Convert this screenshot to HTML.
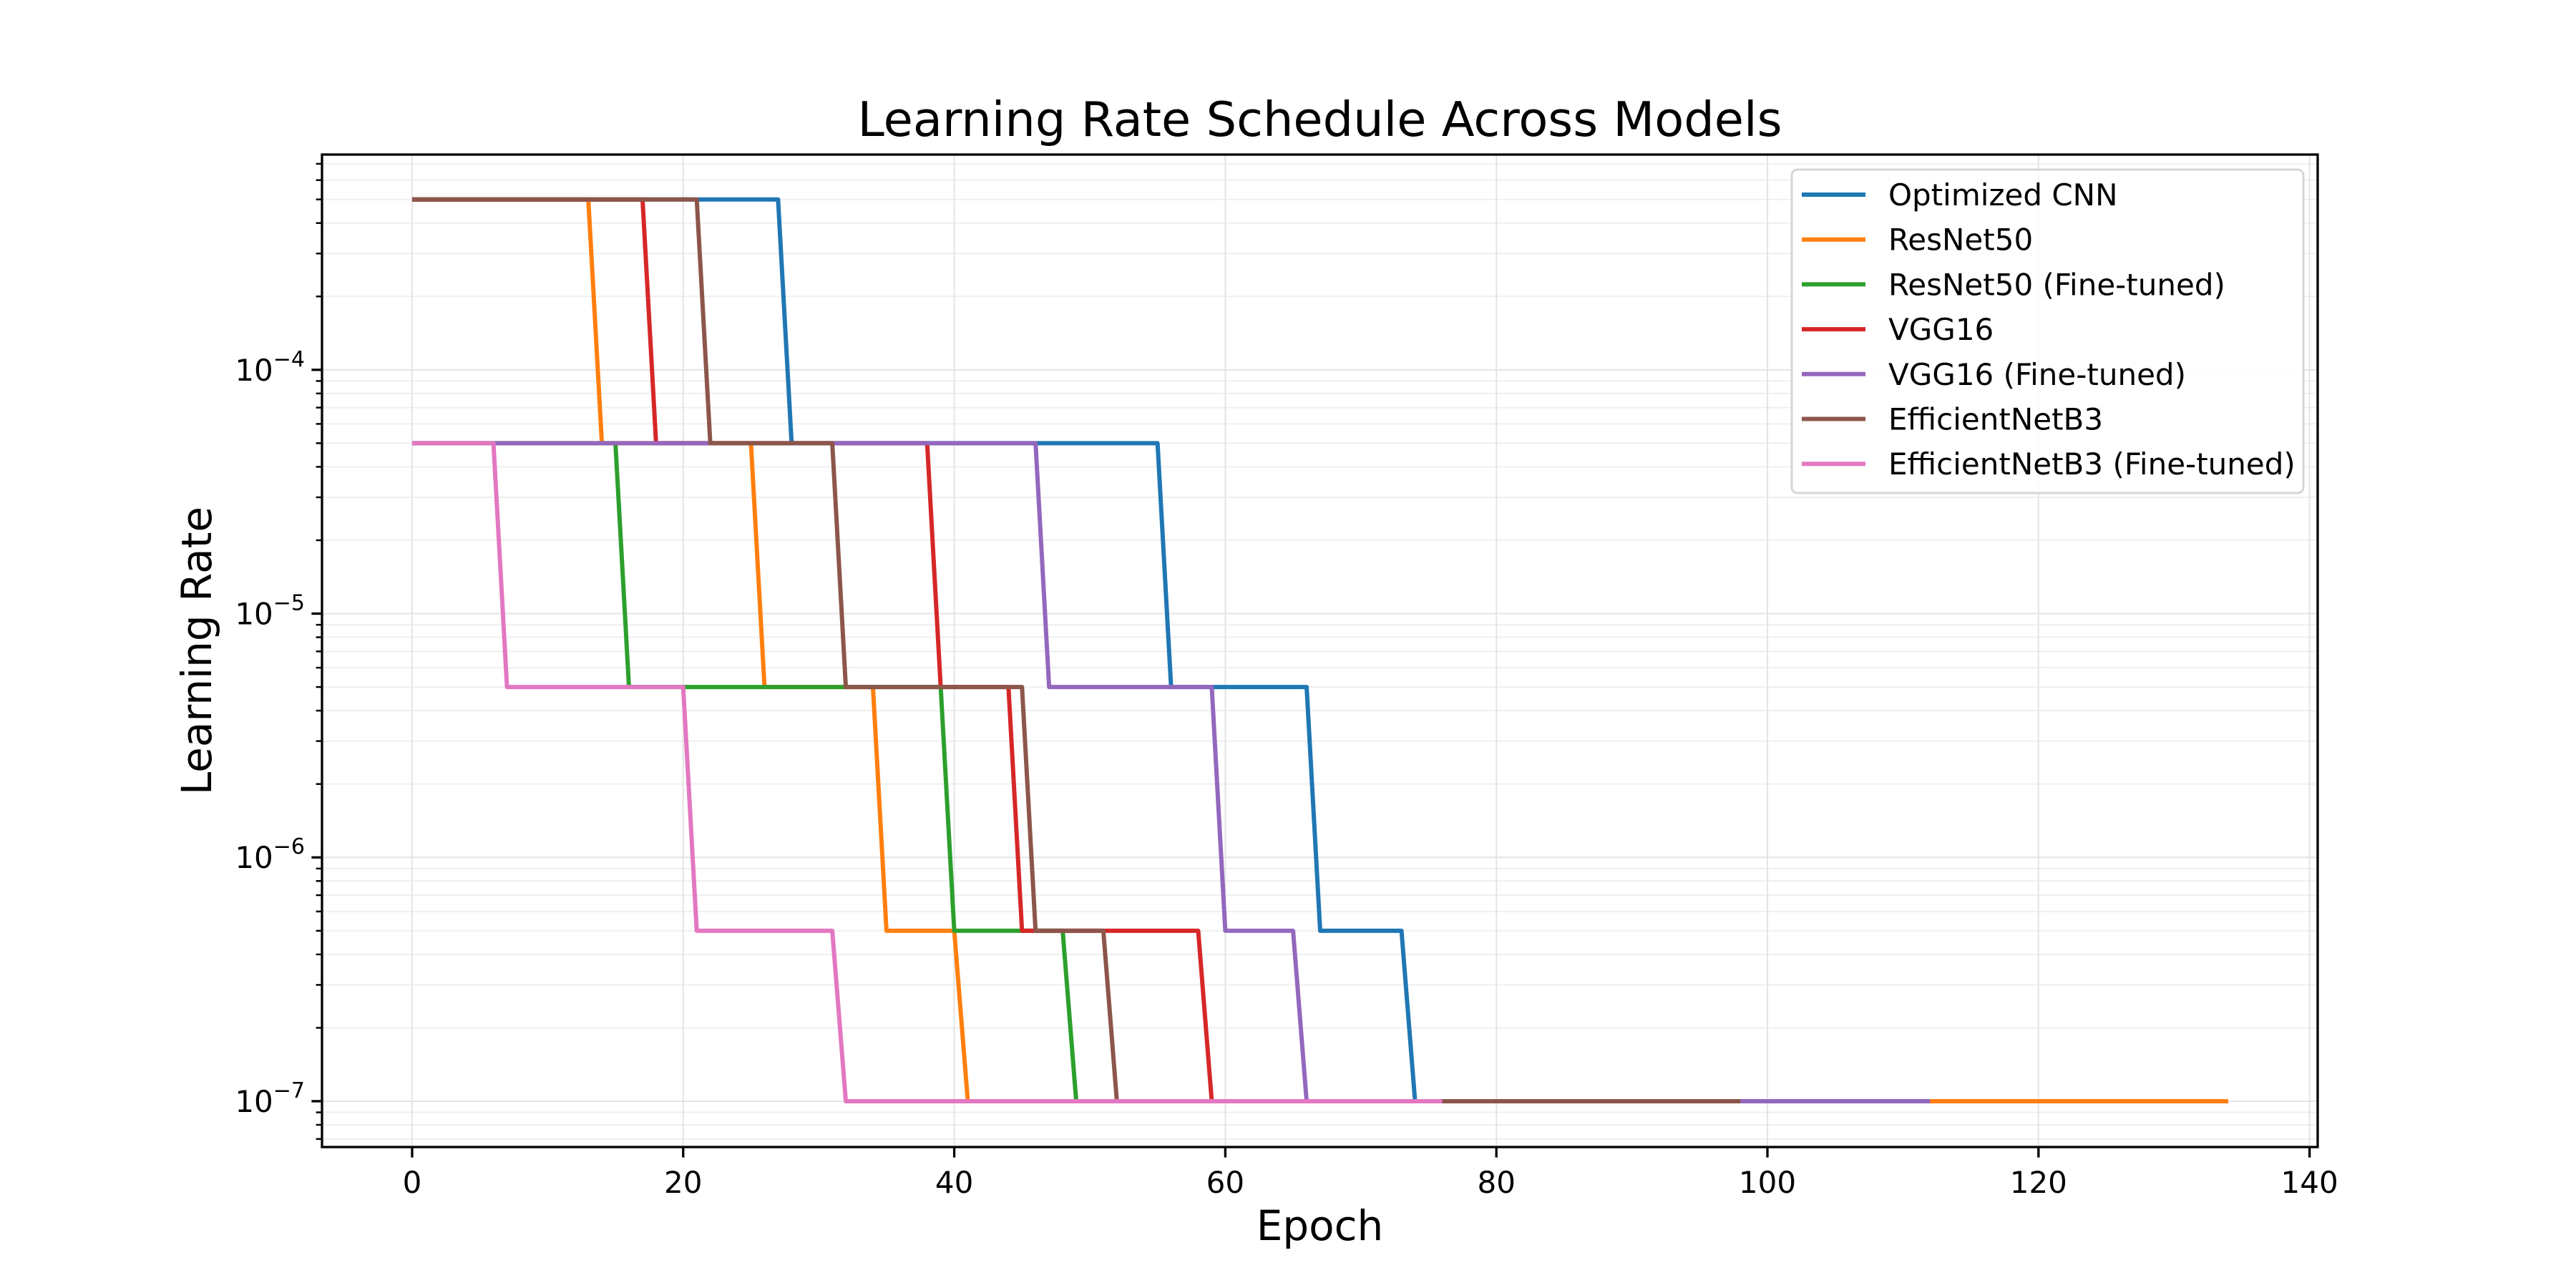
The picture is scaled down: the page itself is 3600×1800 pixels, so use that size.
<!DOCTYPE html>
<html><head><meta charset="utf-8"><style>
html,body{margin:0;padding:0;background:#fff;}
svg{display:block;font-family:"DejaVu Sans","Liberation Sans",sans-serif;}
</style></head><body>
<svg id="chart" width="3600" height="1800" viewBox="0 0 3600 1800" xmlns="http://www.w3.org/2000/svg">
<rect x="0" y="0" width="3600" height="1800" fill="#fff"/>
<g id="grid"></g>
<g id="series"></g>
<g id="axes"></g>
<g id="legend"></g>
</svg>
<script>
const NS='http://www.w3.org/2000/svg';
const seriesNames=['Optimized CNN','ResNet50','ResNet50 (Fine-tuned)','VGG16','VGG16 (Fine-tuned)','EfficientNetB3','EfficientNetB3 (Fine-tuned)'];
const seriesColors=['#1f77b4','#ff7f0e','#2ca02c','#d62728','#9467bd','#8c564b','#e377c2'];
// each series: list of [lastEpochOfSegment, learningRate] steps, starting at epoch 0
const stepsCNN=[[27,5e-4],[55,5e-5],[66,5e-6],[73,5e-7],[76,1e-7]];
const stepsResNet=[[13,5e-4],[25,5e-5],[34,5e-6],[40,5e-7],[134,1e-7]];
const stepsResNetFT=[[15,5e-5],[39,5e-6],[48,5e-7],[72,1e-7]];
const stepsVGG=[[17,5e-4],[38,5e-5],[44,5e-6],[58,5e-7],[85,1e-7]];
const stepsVGGFT=[[46,5e-5],[59,5e-6],[65,5e-7],[112,1e-7]];
const stepsEff=[[21,5e-4],[31,5e-5],[45,5e-6],[51,5e-7],[98,1e-7]];
const stepsEffFT=[[6,5e-5],[20,5e-6],[31,5e-7],[76,1e-7]];
const allSteps=[stepsCNN,stepsResNet,stepsResNetFT,stepsVGG,stepsVGGFT,stepsEff,stepsEffFT];
const xTicks=[0,20,40,60,80,100,120,140];
const yDecades=[-4,-5,-6,-7];

const L=450,R=3239,T=216,B=1603;
const xMin=-6.65,xMax=140.6,yMin=-7.188,yMax=-3.117;
const sx=v=>L+(v-xMin)/(xMax-xMin)*(R-L);
const sy=v=>B-(Math.log10(v)-yMin)/(yMax-yMin)*(B-T);
function el(tag,attrs,parent){const e=document.createElementNS(NS,tag);for(const k in attrs)e.setAttribute(k,attrs[k]);parent.appendChild(e);return e;}
const grid=document.getElementById('grid'),axes=document.getElementById('axes'),ser=document.getElementById('series'),leg=document.getElementById('legend');

for(let d=-8;d<=-3;d++){for(let m=1;m<=9;m++){const v=m*Math.pow(10,d);const lv=Math.log10(v);if(lv<yMin||lv>yMax)continue;const y=sy(v);
const g=el('line',{x1:L,x2:R,y1:y,y2:y,stroke:m===1?'#e4e4e4':'#efefef','stroke-width':2},grid);


const t=el('line',{x1:L,x2:L-(m===1?14.6:8.3),y1:y,y2:y,stroke:'#000','stroke-width':m===1?3.3:2.5},axes);

}}
xTicks.forEach(v=>{const x=sx(v);
const g=el('line',{x1:x,x2:x,y1:T,y2:B,stroke:'#e4e4e4','stroke-width':2},grid);


const t=el('line',{x1:x,x2:x,y1:B,y2:B+14.6,stroke:'#000','stroke-width':3.3},axes);


const tx=el('text',{x:x,y:B+64,'font-size':42,'text-anchor':'middle',fill:'#000'},axes);tx.textContent=v;

});
yDecades.forEach(d=>{const y=sy(Math.pow(10,d));
const tx=el('text',{x:L-24,y:y+15,'font-size':42,'text-anchor':'end',fill:'#000'},axes);


const a=el('tspan',{},tx);a.textContent='10';
const b=el('tspan',{dy:-20,'font-size':30},tx);b.textContent='\u2212'+(-d);});

allSteps.forEach((steps,i)=>{let pts=[];let start=0;
steps.forEach(([end,v])=>{for(let e=start;e<=end;e++)pts.push(sx(e)+','+sy(v));start=end+1;});
const p=el('polyline',{points:pts.join(' '),fill:'none',stroke:seriesColors[i],'stroke-width':6,'stroke-linejoin':'round'},ser);

});

const fr=el('rect',{x:L,y:T,width:R-L,height:B-T,fill:'none',stroke:'#000','stroke-width':3.3},axes);



const title=el('text',{x:(L+R)/2,y:190,'font-size':67,'text-anchor':'middle',fill:'#000'},axes);title.textContent='Learning Rate Schedule Across Models';


const xl=el('text',{x:(L+R)/2,y:1733,'font-size':58,'text-anchor':'middle',fill:'#000'},axes);xl.textContent='Epoch';


const yl=el('text',{x:0,y:0,'font-size':58,'text-anchor':'middle',fill:'#000',transform:'translate(295,'+((T+B)/2)+') rotate(-90)'},axes);yl.textContent='Learning Rate';



const box=el('rect',{x:2504,y:237,width:715,height:452,rx:8,fill:'#fff','fill-opacity':0.85,stroke:'#d6d6d6','stroke-width':3},leg);


seriesNames.forEach((n,i)=>{const y=272+i*62.7;
const g=el('g',{},leg);


el('line',{x1:2518,x2:2607,y1:y,y2:y,stroke:seriesColors[i],'stroke-width':6},g);
const t=el('text',{x:2639,y:y+15,'font-size':42,fill:'#000'},g);t.textContent=n;});
</script>
</body></html>
